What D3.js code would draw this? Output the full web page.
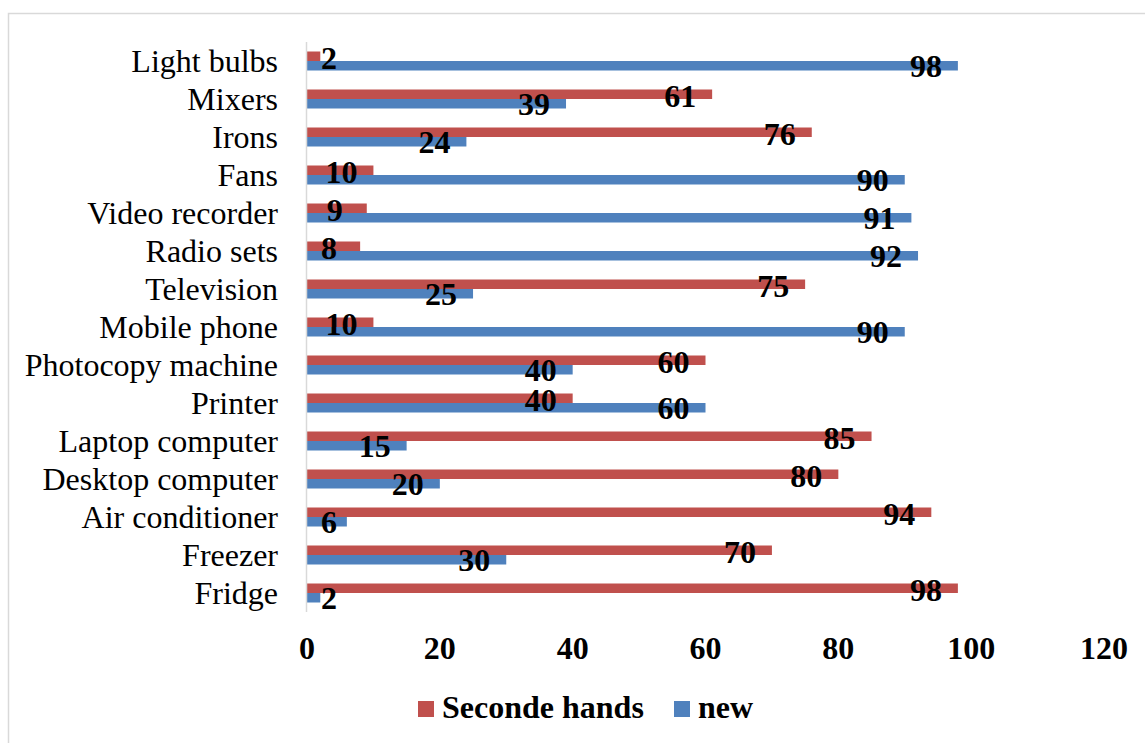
<!DOCTYPE html>
<html><head><meta charset="utf-8">
<script src="https://cdn.jsdelivr.net/npm/d3@7/dist/d3.min.js"></script>
<style>body{margin:0;background:#fff}</style>
</head><body>
<svg id="c" width="1145" height="743"></svg>
<script>
const categories = ["Light bulbs","Mixers","Irons","Fans","Video recorder","Radio sets","Television","Mobile phone","Photocopy machine","Printer","Laptop computer","Desktop computer","Air conditioner","Freezer","Fridge"];
const secondHand = [2,61,76,10,9,8,75,10,60,40,85,80,94,70,98];
const newVals = [98,39,24,90,91,92,25,90,40,60,15,20,6,30,2];
const xTicks = [0,20,40,60,80,100,120];
const seriesNames = ["Seconde hands","new"];
const colors = ["#C0504D","#4F81BD"];

const svg = d3.select("#c");
const font = "'Liberation Serif','Times New Roman',serif";
svg.append("rect").attr("x",8.5).attr("y",13.5).attr("width",1160).attr("height",760)
  .attr("fill","#fff").attr("stroke","#d9d9d9").attr("stroke-width",1.5);

const x = d3.scaleLinear().domain([0,120]).range([307,1104]);
const y = d3.scaleBand().domain(categories).range([42,612]).paddingInner(0.5).paddingOuter(0.25);
const sub = d3.scaleBand().domain([0,1]).range([0,y.bandwidth()]);

const data = categories.map((c,i)=>({c, v:[secondHand[i], newVals[i]]}));

const g = svg.append("g");
data.forEach(d=>{
  d.v.forEach((v,s)=>{
    g.append("rect").attr("x",x(0)).attr("y",y(d.c)+sub(s)).attr("width",x(v)-x(0)).attr("height",sub.bandwidth())
      .attr("fill",colors[s]);
  });
});
svg.append("line").attr("x1",x(0)-0.5).attr("x2",x(0)-0.5).attr("y1",42).attr("y2",612).attr("stroke","#d9d9d9").attr("stroke-width",1.5);

svg.append("g").selectAll("text").data(categories).join("text")
  .attr("x",278).attr("y",d=>y(d)+y.bandwidth()/2).attr("dy","0.33em")
  .attr("text-anchor","end").attr("font-family",font).attr("font-size",32).attr("fill","#000").text(d=>d);

data.forEach(d=>{
  d.v.forEach((v,s)=>{
    const cx = Math.max(x(v)-32, x(0)+22);
    g.append("text").attr("x",cx).attr("y",y(d.c)+sub(s)+sub.bandwidth()/2+(s===0?2:0)).attr("dy","0.34em")
      .attr("text-anchor","middle").attr("font-family",font).attr("font-weight","bold").attr("font-size",32).text(v);
  });
});

svg.append("g").selectAll("text").data(xTicks).join("text")
  .attr("x",d=>x(d)).attr("y",659).attr("text-anchor","middle").attr("font-family",font)
  .attr("font-weight","bold").attr("font-size",32).text(d=>d);

const leg = svg.append("g");
const lx = [418, 674];
seriesNames.forEach((n,i)=>{
  leg.append("rect").attr("x",lx[i]).attr("y",701).attr("width",16).attr("height",16).attr("fill",colors[i]);
  leg.append("text").attr("x",lx[i]+24).attr("y",718).attr("font-family",font).attr("font-weight","bold")
    .attr("font-size",32).text(n);
});
</script>
</body></html>
